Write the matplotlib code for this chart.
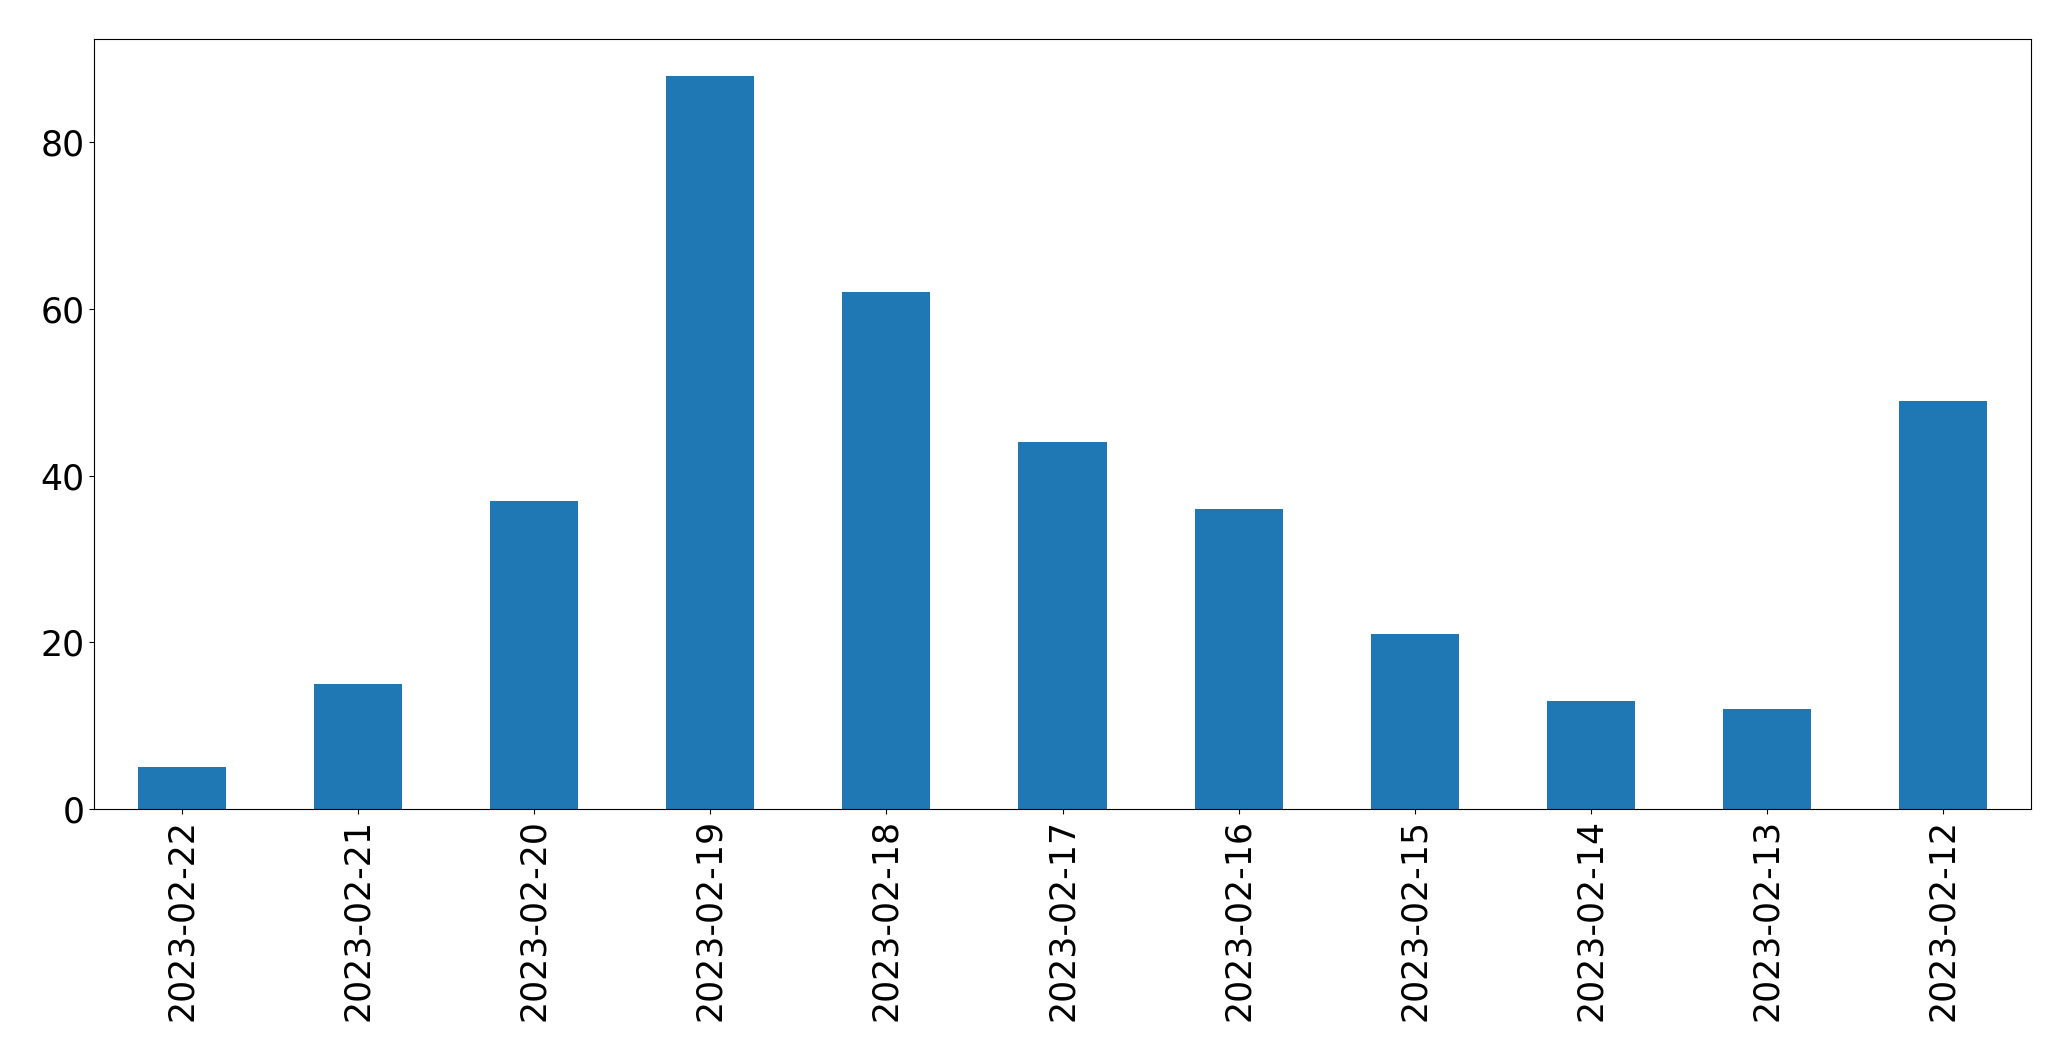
import matplotlib
matplotlib.use("Agg")
import matplotlib.pyplot as plt

dates = ["2023-02-22", "2023-02-21", "2023-02-20", "2023-02-19", "2023-02-18",
         "2023-02-17", "2023-02-16", "2023-02-15", "2023-02-14", "2023-02-13", "2023-02-12"]
counts = [5, 15, 37, 88, 62, 44, 36, 21, 13, 12, 49]

fig = plt.figure(figsize=(20.71, 10.61), dpi=100)
ax = fig.add_axes([94/2071, 1 - 809/1061, (2031-94)/2071, (809-39)/1061])
x = list(range(len(dates)))
ax.bar(x, counts, width=0.5, color="#1f77b4")
ax.set_xlim(-0.5, len(dates) - 0.5)
ax.set_ylim(0, max(counts) * 1.05)
ax.set_xticks(x)
ax.set_xticklabels(dates, rotation=90)
ax.tick_params(axis="both", labelsize=25)
fig.savefig("out.png", dpi=100)
